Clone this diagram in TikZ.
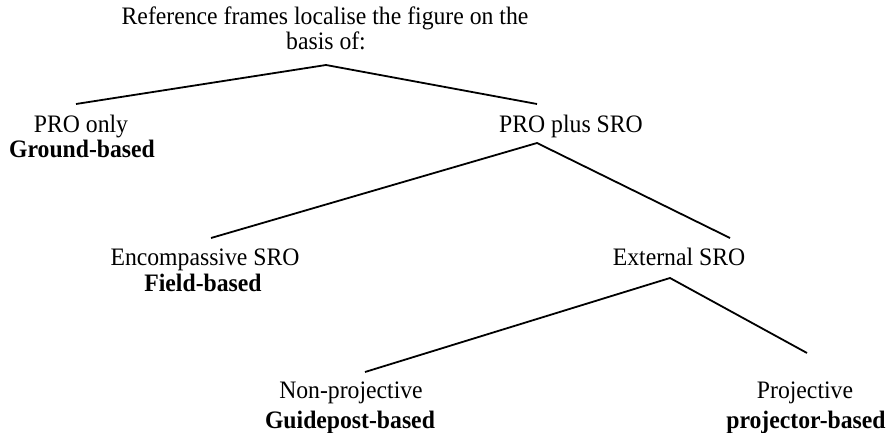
\documentclass[tikz,border=0pt]{standalone}
\usepackage{fontspec}
\setmainfont{Liberation Serif}
\newcommand{\tallt}[1]{\scalebox{1}[1.06]{#1}}
\begin{document}
\begin{tikzpicture}[x=1pt,y=1pt,
  lbl/.style={anchor=base,inner sep=0pt,font=\fontsize{23.7}{25}\selectfont},
  lblb/.style={lbl,font=\fontsize{23.7}{25}\selectfont\bfseries},
  branch/.style={line width=1.8pt,line cap=butt}]
\useasboundingbox (0,0) rectangle (889,432);
% title
\node[lbl] (t1) at (325,407) {\tallt{Reference frames localise the figure on the}};
\node[lbl] (t2) at (326,382) {\tallt{basis of:}};
% level 1
\coordinate (a1) at (326,367);
\coordinate (e1l) at (76,328);
\coordinate (e1r) at (537,328);
\node[lbl] (pro) at (81,300) {\tallt{PRO only}};
\node[lblb] (ground) at (82,275) {\tallt{Ground-based}};
\node[lbl] (prosro) at (571,300) {\tallt{PRO plus SRO}};
% level 2
\coordinate (a2) at (537,289);
\coordinate (e2l) at (211,194);
\coordinate (e2r) at (730,194);
\node[lbl] (enc) at (205,167) {\tallt{Encompassive SRO}};
\node[lblb] (field) at (203,141) {\tallt{Field-based}};
\node[lbl] (ext) at (679,167) {\tallt{External SRO}};
% level 3
\coordinate (a3) at (670,154);
\coordinate (e3l) at (365,60);
\coordinate (e3r) at (807,79);
\node[lbl] (nonproj) at (351,34) {\tallt{Non-projective}};
\node[lblb] (guide) at (350,4) {\tallt{Guidepost-based}};
\node[lbl] (proj) at (805,34) {\tallt{Projective}};
\node[lblb] (projector) at (806,4) {\tallt{projector-based}};
% connectors
\draw[branch] (e1l) -- (a1) -- (e1r);
\draw[branch] (e2l) -- (a2) -- (e2r);
\draw[branch] (e3l) -- (a3) -- (e3r);
\end{tikzpicture}
\end{document}
